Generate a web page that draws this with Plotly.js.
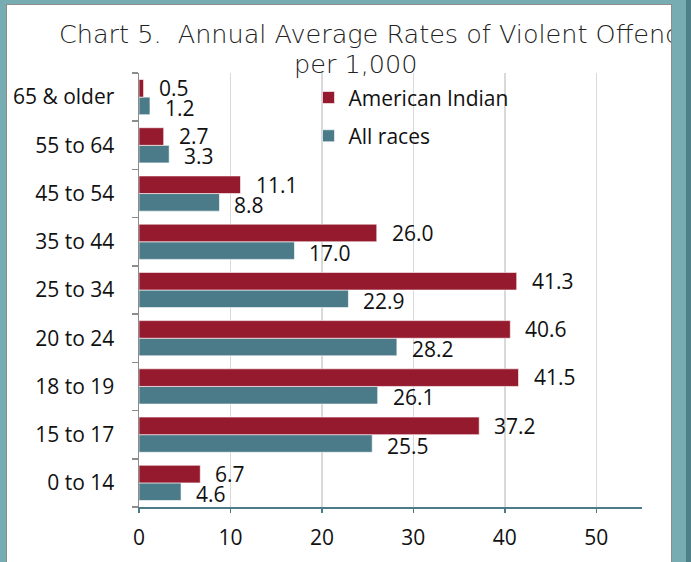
<!DOCTYPE html>
<html><head><meta charset="utf-8">
<script src="https://cdn.plot.ly/plotly-3.0.1.min.js"></script>
<style>
html,body{margin:0;padding:0;width:691px;height:562px;background:#77adb2;overflow:hidden;}
#card{position:absolute;left:6px;top:4px;width:664px;height:560px;background:#fff;border:1px solid #8c8c8c;box-sizing:content-box;overflow:hidden;}
#strip{position:absolute;left:686px;top:0;width:5px;height:562px;background:#4d8088;}
#chart{width:664px;height:557px;}
</style></head>
<body>
<div id="card"><div id="chart"></div></div>
<div id="strip"></div>
<script>
const categories = ["0 to 14","15 to 17","18 to 19","20 to 24","25 to 34","35 to 44","45 to 54","55 to 64","65 & older"];
const americanIndian = [6.7, 37.2, 41.5, 40.6, 41.3, 26.0, 11.1, 2.7, 0.5];
const allRaces = [4.6, 25.5, 26.1, 28.2, 22.9, 17.0, 8.8, 3.3, 1.2];
const xTicks = [0, 10, 20, 30, 40, 50];
const seriesNames = ["American Indian", "All races"];
const titleLine1 = "Chart 5.  Annual Average Rates of Violent Offending";
const titleLine2 = "per 1,000";

const RED = "#951a2d", TEAL = "#4b7b89";
const FONT = "'Open Sans', 'Noto Sans', sans-serif";
const TFONT = "'DejaVu Sans', 'Open Sans', sans-serif";

const traces = [
  {type:"bar", orientation:"h", name:seriesNames[1], y:categories, x:allRaces,
   marker:{color:TEAL, line:{color:"rgba(255,255,255,0.6)", width:1}}, legendgroup:"b", legendrank:2, hoverinfo:"x"},
  {type:"bar", orientation:"h", name:seriesNames[0], y:categories, x:americanIndian,
   marker:{color:RED, line:{color:"rgba(255,255,255,0.6)", width:1}}, legendgroup:"a", legendrank:1, hoverinfo:"x"}
];

const ann = [];
categories.forEach((c,i)=>{
  ann.push({x:americanIndian[i], y:c, xref:"x", yref:"y", text:americanIndian[i].toFixed(1),
    showarrow:false, xanchor:"left", yanchor:"middle", xshift:13, yshift:9,
    font:{family:FONT, size:21, color:"#111"}});
  ann.push({x:allRaces[i], y:c, xref:"x", yref:"y", text:allRaces[i].toFixed(1),
    showarrow:false, xanchor:"left", yanchor:"middle", xshift:13, yshift:-11,
    font:{family:FONT, size:21, color:"#111"}});
});
ann.push({xref:"paper", yref:"paper", x:-0.163, y:1.09, xanchor:"left", yanchor:"middle",
  text:titleLine1, showarrow:false, font:{family:TFONT, size:25.5, color:"#222", weight:200}});
ann.push({xref:"paper", yref:"paper", x:0.43, y:1.02, xanchor:"center", yanchor:"middle",
  text:titleLine2, showarrow:false, font:{family:TFONT, size:25.5, color:"#222", weight:200}});

const layout = {
  width:664, height:557,
  margin:{l:132, r:29, t:68, b:55},
  paper_bgcolor:"#fff", plot_bgcolor:"#fff",
  barmode:"group", bargap:0.27, bargroupgap:0,
  showlegend:true,
  legend:{x:0.337, y:0.99, xanchor:"left", yanchor:"top", traceorder:"grouped", tracegroupgap:8,
    font:{family:FONT, size:21, color:"#111"}, bgcolor:"rgba(0,0,0,0)"},
  xaxis:{range:[0,55], tickvals:xTicks, ticktext:xTicks.map(String), showgrid:true, gridcolor:"#d9d9d9", gridwidth:1.5,
    zeroline:false, showline:true, linecolor:TEAL, linewidth:2, ticks:"outside", ticklen:4, tickcolor:TEAL, tickwidth:1.5,
    ticklabelstandoff:7, tickfont:{family:FONT, size:21, color:"#111"}, fixedrange:true},
  yaxis:{type:"category", categoryorder:"array", categoryarray:categories, range:[-0.5,8.5],
    showline:true, linecolor:"#8c8c8c", linewidth:1.5, ticks:"outside", ticklen:6, tickcolor:"#8c8c8c", tickwidth:1.5,
    tickson:"boundaries", showgrid:false, ticklabelstandoff:19,
    tickfont:{family:FONT, size:21, color:"#111"}, fixedrange:true},
  annotations:ann
};
Plotly.newPlot("chart", traces, layout, {displayModeBar:false, staticPlot:true});
</script>
</body></html>
